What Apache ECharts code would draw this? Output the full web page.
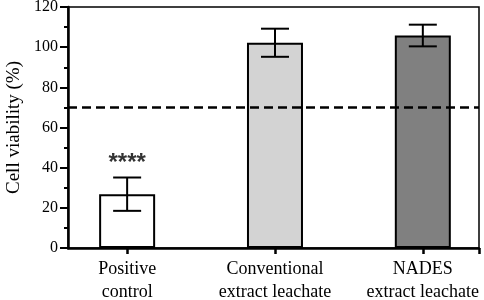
<!DOCTYPE html>
<html>
<head>
<meta charset="utf-8">
<script src="https://cdn.jsdelivr.net/npm/echarts@6/dist/echarts.min.js"></script>
<style>
  html, body { margin: 0; padding: 0; background: #fff; }
  #chart { width: 484px; height: 300px; }
</style>
</head>
<body>
<div id="chart"></div>
<script>
var categories = ['Positive\ncontrol', 'Conventional\nextract leachate', 'NADES\nextract leachate'];
var viability = [26.8, 102.2, 105.8];
var viabilityErr = [8.3, 7.0, 5.4];
var barColors = ['#ffffff', '#d3d3d3', '#808080'];
var thresholdValue = 70;
var sigLabels = ['****', '', ''];
var sigHeight = [42, null, null];

var font = 'Liberation Serif';

var barData = viability.map(function (v, i) {
    return { value: [i, v], itemStyle: { color: barColors[i] } };
});
var errData = viability.map(function (v, i) {
    return [i, v - viabilityErr[i], v + viabilityErr[i]];
});
var sigData = [];
sigLabels.forEach(function (s, i) {
    if (s) sigData.push({ value: [i, sigHeight[i]], label: { formatter: s } });
});

var chart = echarts.init(document.getElementById('chart'));
var option = {
    animation: false,
    grid: {
        left: 68, right: 5, top: 7, bottom: 52,
        outerBoundsMode: 'none',
        containLabel: false,
        show: true, borderColor: '#000', borderWidth: 1.5
    },
    xAxis: {
        type: 'value',
        min: -0.4,
        max: 2.38,
        splitLine: { show: false },
        axisLine: { show: true, onZero: false, lineStyle: { color: '#000', width: 2.5 } },
        axisTick: {
            show: true, length: 6, lineStyle: { color: '#000', width: 2.5 },
            customValues: [0, 1, 2, 2.38]
        },
        axisLabel: {
            customValues: [0, 1, 2],
            formatter: function (v) { return categories[Math.round(v)] || ''; },
            fontFamily: font, fontSize: 18, color: '#000',
            lineHeight: 23, margin: 10
        }
    },
    yAxis: {
        type: 'value',
        min: 0, max: 120, interval: 20,
        name: 'Cell viability (%)',
        nameLocation: 'middle',
        nameGap: 40,
        nameTextStyle: { fontFamily: font, fontSize: 19, color: '#000' },
        splitLine: { show: false },
        axisLine: { show: true, onZero: false, lineStyle: { color: '#000', width: 2.5 } },
        axisTick: { show: true, length: 8, lineStyle: { color: '#000', width: 2 } },
        minorTick: { show: true, splitNumber: 2, length: 4, lineStyle: { color: '#000', width: 2 } },
        axisLabel: { fontFamily: font, fontSize: 16, color: '#000', margin: 10 }
    },
    series: [
        {
            type: 'bar',
            data: barData,
            barWidth: 56,
            itemStyle: { borderColor: '#000', borderWidth: 2 },
            markLine: {
                silent: true,
                symbol: 'none',
                label: { show: false },
                lineStyle: { color: '#000', type: [9, 5], width: 2.5 },
                data: [{ yAxis: thresholdValue }]
            },
            z: 2
        },
        {
            type: 'custom',
            data: errData,
            z: 3,
            renderItem: function (params, api) {
                var x = api.value(0);
                var lo = api.coord([x, api.value(1)]);
                var hi = api.coord([x, api.value(2)]);
                var half = 14;
                var style = { stroke: '#000', lineWidth: 2 };
                return {
                    type: 'group',
                    children: [
                        { type: 'line', shape: { x1: lo[0], y1: lo[1], x2: hi[0], y2: hi[1] }, style: style },
                        { type: 'line', shape: { x1: lo[0] - half, y1: lo[1], x2: lo[0] + half, y2: lo[1] }, style: style },
                        { type: 'line', shape: { x1: hi[0] - half, y1: hi[1], x2: hi[0] + half, y2: hi[1] }, style: style }
                    ]
                };
            }
        },
        {
            type: 'scatter',
            data: sigData,
            symbolSize: 0,
            label: {
                show: true, position: 'inside',
                fontFamily: 'Liberation Sans', fontWeight: 'bold', fontSize: 24, color: '#000'
            }
        }
    ]
};
chart.setOption(option);
</script>
</body>
</html>
